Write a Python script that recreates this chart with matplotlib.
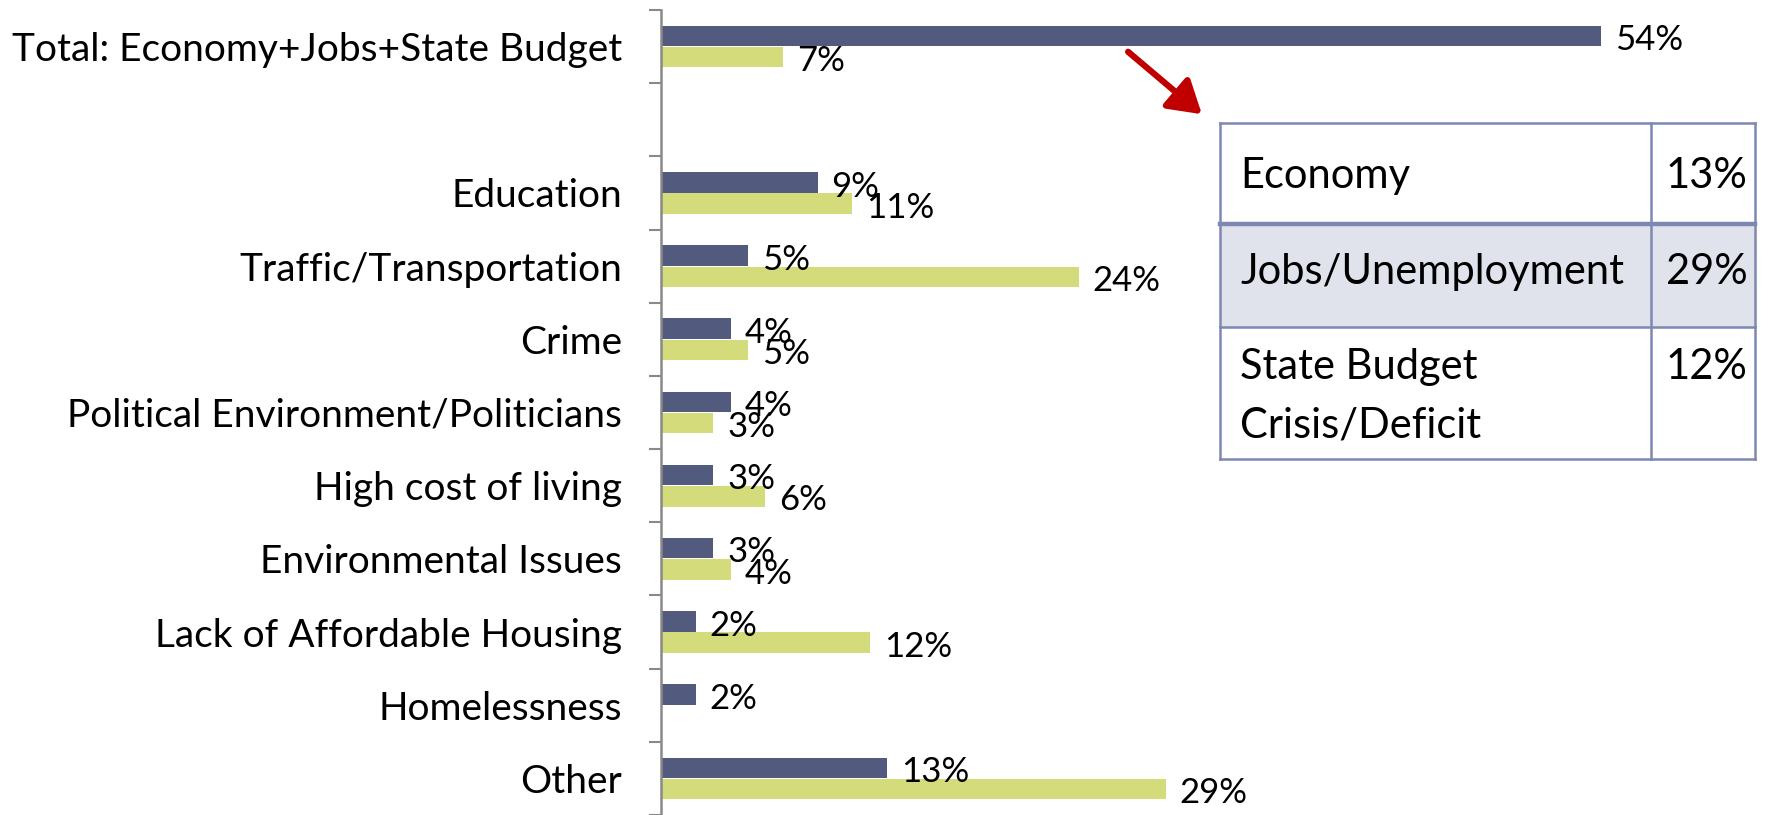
import matplotlib.pyplot as plt
import numpy as np
from matplotlib.patches import Rectangle, FancyArrowPatch

# Data
categories = ['Total: Economy+Jobs+State Budget', '', 'Education', 'Traffic/Transportation',
              'Crime', 'Political Environment/Politicians', 'High cost of living',
              'Environmental Issues', 'Lack of Affordable Housing', 'Homelessness', 'Other']
series_a = [54, np.nan, 9, 5, 4, 4, 3, 3, 2, 2, 13]
series_b = [7, np.nan, 11, 24, 5, 3, 6, 4, 12, np.nan, 29]

table_labels = ['Economy', 'Jobs/Unemployment', 'State Budget\nCrisis/Deficit']
table_values = ['13%', '29%', '12%']

FONT = 'Lato'
BLUE = '#525A7D'
YELLOW = '#D4DB7A'

W, H = 1787, 815
fig = plt.figure(figsize=(W / 100, H / 100), dpi=100, facecolor='white')
ax = fig.add_axes([661 / W, 0.0, 1 - 661 / W, 1 - 10 / H])

y = np.arange(len(categories))
bh = 0.28
ax.barh(y - 0.145, series_a, height=bh, color=BLUE)
ax.barh(y + 0.145, series_b, height=bh, color=YELLOW)

# value labels (Excel style, just right of bar end)
for offs, vals in [(-0.145, series_a), (0.145, series_b)]:
    for yy, v in zip(y, vals):
        if not np.isnan(v):
            ax.annotate(f'{v:.0f}%', (v, yy + offs), xytext=(10, -3), textcoords='offset points',
                        ha='left', va='center', fontsize=25, family=FONT)

ax.set_xlim(0, 64.7)
ax.set_ylim(len(categories) - 0.5, -0.5)
ax.set_yticks(y)
ax.set_yticklabels(categories, fontsize=28, family=FONT)
ax.tick_params(axis='y', which='major', length=0, pad=28)
ax.set_yticks(np.arange(-0.5, len(categories)), minor=True)
ax.tick_params(axis='y', which='minor', length=9, width=1.5, color='#898989')
ax.set_xticks([])
for s in ['top', 'right', 'bottom']:
    ax.spines[s].set_visible(False)
ax.spines['left'].set_color('#898989')
ax.spines['left'].set_linewidth(1.8)

# inset table (figure pixel coords converted to fractions)
def fx(px):
    return px / W

def fy(py):
    return 1 - py / H

left, right, split = 1220, 1755, 1651
rows = [123, 224, 327, 459]
border = '#7D88B3'
fig.patches.append(Rectangle((fx(left), fy(rows[2])), fx(right) - fx(left), fy(rows[1]) - fy(rows[2]),
                             transform=fig.transFigure, facecolor='#E0E3EB', edgecolor='none', zorder=1))
for i, ry in enumerate(rows):
    lw = 3.2 if i == 1 else 1.8
    fig.add_artist(plt.Line2D([fx(left), fx(right)], [fy(ry), fy(ry)], color=border, lw=lw, zorder=2))
for cx in [left, split, right]:
    fig.add_artist(plt.Line2D([fx(cx), fx(cx)], [fy(rows[0]), fy(rows[-1])], color=border, lw=1.8, zorder=2))

text_centers = [176, 272, 367]
for lab, val, cy in zip(table_labels, table_values, text_centers):
    for k, ln in enumerate(lab.split('\n')):
        fig.text(fx(left + 20), fy(cy + 58 * k), ln, ha='left', va='center',
                 fontsize=30, family=FONT, zorder=3)
    fig.text(fx(split + 15), fy(cy), val, ha='left', va='center', fontsize=30, family=FONT, zorder=3)

arrow = FancyArrowPatch((fx(1126), fy(50)), (fx(1204), fy(116)), transform=fig.transFigure,
                        arrowstyle='-|>,head_length=13,head_width=8', color='#C00000', lw=4.5,
                        mutation_scale=1.5)
fig.add_artist(arrow)

fig.savefig('out.png', dpi=100, facecolor='white')
